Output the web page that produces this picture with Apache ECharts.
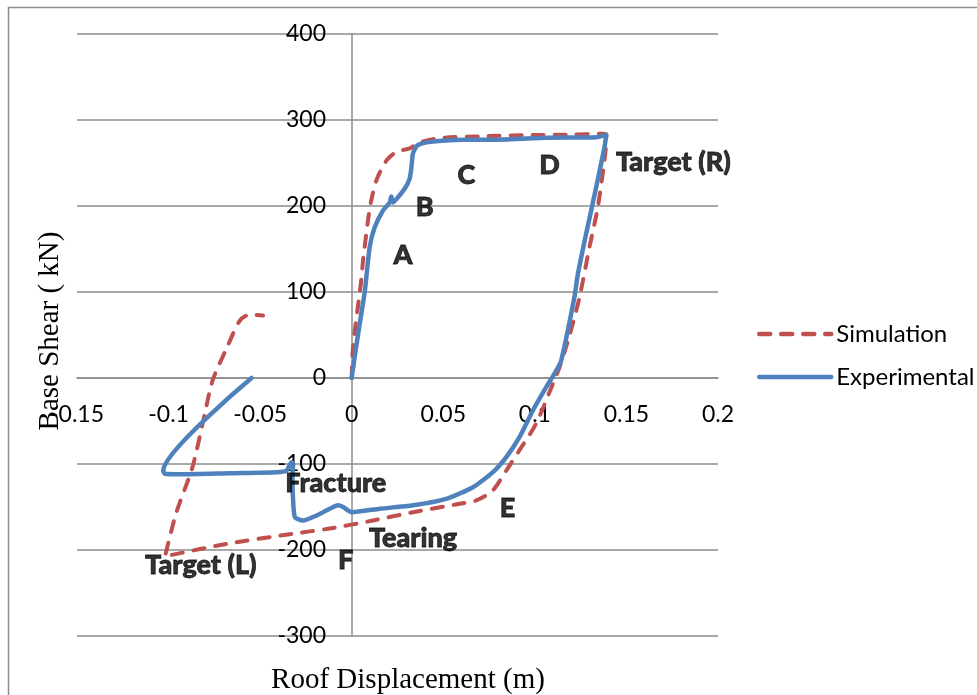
<!DOCTYPE html>
<html>
<head>
<meta charset="utf-8">
<script src="https://cdn.jsdelivr.net/npm/echarts@6/dist/echarts.min.js"></script>
<style>
  html, body { margin: 0; padding: 0; background: #fff; }
  #chart { width: 977px; height: 695px; }
</style>
</head>
<body>
<div id="chart"></div>
<script>
// Roof displacement (m) and base shear (kN), experimental loop
const expDisp = [0, 0.002, 0.0045, 0.0071, 0.0098, 0.0125, 0.0171, 0.0207, 0.0216, 0.0225, 0.0244, 0.0289, 0.0316, 0.0326, 0.0334, 0.0356, 0.0407, 0.0607, 0.0789, 0.1062, 0.1335, 0.139,
  0.138, 0.1335, 0.128, 0.1235, 0.1216, 0.1144, 0.1117, 0.1062, 0.0989, 0.0916, 0.0844, 0.0771, 0.0662, 0.0516, 0.0335, 0.0153, 0,
  -0.0047, -0.0075, -0.012, -0.0193, -0.0266, -0.031, -0.032, -0.0324, -0.032, -0.0329, -0.0356, -0.0411, -0.0665, -0.0938, -0.102, -0.1029, -0.0547];
const expShear = [0, 30, 65, 100, 152, 175, 195, 204, 211, 204, 208, 220, 231.6, 245, 260.7, 270, 274, 277, 277, 279.3, 280, 282.8,
  268, 222, 167.7, 121, 94, 20.3, 8.7, -10.7, -37.8, -68.8, -92, -109.5, -127, -140.5, -148, -152, -156,
  -150, -148, -152, -160, -165.7, -161.8, -142.4, -115, -100, -98, -107.6, -109.5, -110.7, -112, -111.4, -107.6, 0];

// Simulation loop
const simDisp = [0, 0.0005, 0.002, 0.0035, 0.005, 0.0062, 0.0075, 0.009, 0.0105, 0.0135, 0.019, 0.0244, 0.0316, 0.037, 0.048, 0.07, 0.097, 0.12, 0.137, 0.139,
  0.1385, 0.1344, 0.1298, 0.1244, 0.119, 0.1135, 0.1098, 0.1007, 0.0916, 0.0844, 0.077, 0.068, 0.057, 0.0335, 0.0116, -0.012, -0.032, -0.068, -0.099, -0.102,
  -0.096, -0.087, -0.081, -0.076, -0.068, -0.061, -0.0556, -0.0484];
const simShear = [0, 30, 60, 85, 110, 137, 160, 185, 205, 230, 253, 263, 267, 274, 279, 281, 282.5, 283, 284, 283,
  262, 199, 152, 94, 50, 12.6, -7, -53, -84, -107.6, -130.8, -142.4, -147, -156, -165.7, -175, -181, -192.8, -206, -208,
  -158, -104, -49, -3, 36, 67, 73.8, 72.7];

// Point annotations (text, displacement, shear)
const noteText  = ['A', 'B', 'C', 'D', 'Target (R)', 'E', 'Tearing', 'F', 'Target (L)', 'Fracture'];
const noteDisp  = [0.028, 0.0398, 0.0626, 0.108, 0.1756, 0.0851, 0.0335, -0.0033, -0.0824, -0.0087];
const noteShear = [142.4, 198.6, 235.5, 247, 250.6, -151.7, -186.6, -212.2, -218, -122.7];

const seriesNames = ['Simulation', 'Experimental'];
const xTicks = { min: -0.15, max: 0.2, step: 0.05 };
const yTicks = { min: -300, max: 400, step: 100 };

const zip = (a, b) => a.map((v, i) => [v, b[i]]);

const gridColor = '#8c8c8c';
const labelFont = 'Lato, "Open Sans", sans-serif';
const titleFont = '"Liberation Serif", "DejaVu Serif", serif';

const chart = echarts.init(document.getElementById('chart'), null, { renderer: 'canvas' });

chart.setOption({
  animation: false,
  backgroundColor: '#ffffff',
  grid: { left: 77, right: 259, top: 34, bottom: 59, containLabel: false },
  xAxis: {
    type: 'value',
    min: xTicks.min, max: xTicks.max, interval: xTicks.step,
    axisLine: { show: true, onZero: true, lineStyle: { color: gridColor, width: 1.5 } },
    axisTick: { show: false },
    splitLine: { show: false },
    axisLabel: {
      // labels sit just under the zero line
      margin: -233, color: '#000', fontFamily: labelFont, fontSize: 23,
      showMinLabel: true, showMaxLabel: true,
      formatter: v => String(Math.round(v * 100) / 100)
    }
  },
  yAxis: {
    type: 'value',
    min: yTicks.min, max: yTicks.max, interval: yTicks.step,
    axisLine: { show: true, onZero: true, lineStyle: { color: gridColor, width: 1.5 } },
    axisTick: { show: false },
    splitLine: { show: true, lineStyle: { color: gridColor, width: 1.5 } },
    // labels sit just left of the zero line
    axisLabel: { margin: -249, color: '#000', fontFamily: labelFont, fontSize: 23, align: 'right' }
  },
  legend: {
    orient: 'vertical',
    left: 752, top: 317,
    itemWidth: 72, itemHeight: 14, itemGap: 19,
    data: seriesNames,
    itemStyle: { opacity: 0 },
    lineStyle: { width: 4.5 },
    textStyle: { color: '#000', fontFamily: labelFont, fontSize: 24 }
  },
  graphic: [
    {
      type: 'rect', silent: true,
      shape: { x: 8.5, y: 7.5, width: 1200, height: 1200 },
      style: { fill: 'none', stroke: gridColor, lineWidth: 1.5 }
    },
    {
      type: 'text', silent: true,
      x: 408, y: 680,
      style: { text: 'Roof Displacement (m)', font: '29px ' + titleFont, fill: '#000', align: 'center', verticalAlign: 'middle' }
    },
    {
      type: 'text', silent: true,
      x: 50, y: 331, rotation: Math.PI / 2,
      style: { text: 'Base Shear ( kN)', font: '29px ' + titleFont, fill: '#000', align: 'center', verticalAlign: 'middle' }
    }
  ],
  series: [
    {
      name: seriesNames[0],
      type: 'line',
      data: zip(simDisp, simShear),
      symbol: 'none',
      smooth: 0.25,
      color: '#C0504D',
      lineStyle: { color: '#C0504D', width: 4, type: [11, 11], cap: 'round', join: 'round' },
      z: 2
    },
    {
      name: seriesNames[1],
      type: 'line',
      data: zip(expDisp, expShear),
      symbol: 'none',
      smooth: 0.2,
      color: '#4F81BD',
      lineStyle: { color: '#4F81BD', width: 4.5, cap: 'round', join: 'round' },
      z: 3
    },
    {
      name: 'notes',
      type: 'scatter',
      silent: true,
      symbolSize: 1,
      itemStyle: { color: 'rgba(0,0,0,0)' },
      z: 5,
      data: noteText.map((t, i) => ({ name: t, value: [noteDisp[i], noteShear[i]] })),
      label: {
        show: true, position: 'inside',
        formatter: p => p.name,
        color: '#000', fontFamily: labelFont, fontWeight: 900, fontSize: 27,
        textBorderColor: '#000', textBorderWidth: 0.8
      }
    }
  ]
});
</script>
</body>
</html>
